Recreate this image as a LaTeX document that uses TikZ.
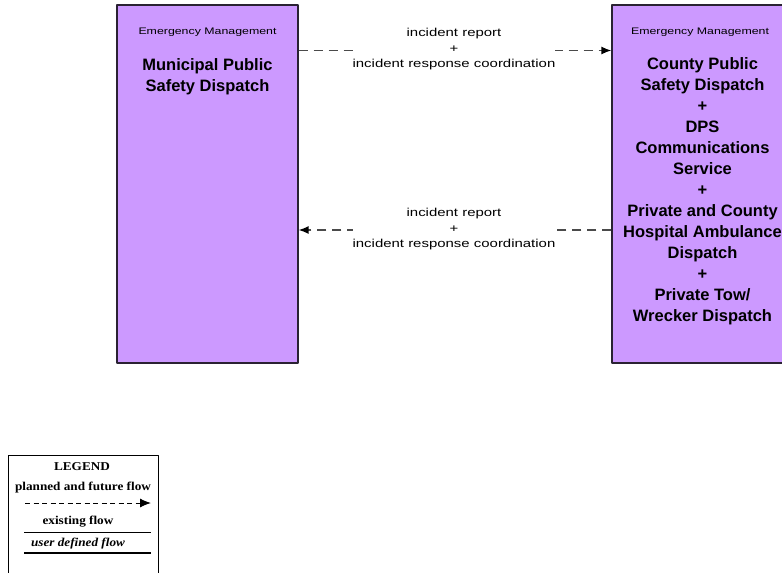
\documentclass[tikz,border=0pt]{standalone}
\usepackage{fontspec}
\usepackage{xcolor}
\usepackage{tikz}
\usetikzlibrary{arrows.meta}
\setmainfont{Liberation Sans}
\newfontfamily\flowfont[FakeStretch=1.3]{Liberation Sans}
\newfontfamily\legendfont[FakeStretch=1.1]{Liberation Serif}
\definecolor{sysviolet}{HTML}{CC99FF}
\definecolor{sysedge}{HTML}{2A2233}
\definecolor{flowgray}{HTML}{4A4A4A}

\begin{document}
\begin{tikzpicture}[x=1pt, y=-1pt, line join=round,
    sysbox/.style={draw=sysedge, fill=sysviolet, line width=1.3pt,
      minimum width=181pt, minimum height=358pt, inner sep=0pt},
    agency/.style={font=\flowfont\fontsize{9.5}{11}\selectfont},
    sysname/.style={align=center,
      font=\bfseries\fontsize{16.5}{21}\selectfont},
    plannedflow/.style={draw=flowgray, line width=1.4pt,
      dash pattern=on 9pt off 6pt,
      -{Latex[length=10pt,width=8pt,black]}},
    flowlabel/.style={fill=white, inner xsep=0pt, inner ysep=1pt, align=center,
      font=\flowfont\fontsize{11.5}{15.5}\selectfont},
    legendtext/.style={font=\legendfont\bfseries\fontsize{12}{14}\selectfont}]
  \useasboundingbox (0,0) rectangle (782,573);
  % the two systems
  \node[sysbox] (muni) at (207.5,184) {};
  \node[sysbox] (county) at (702.5,184) {};
  \node[agency] (muniagency) at (207.5,32) {Emergency Management};
  \node[agency] (countyagency) at (700,32) {Emergency Management};
  \node[sysname] (muniname) at (207.5,77) {Municipal Public\\Safety Dispatch};
  \node[sysname] (countyname) at (702.5,191.5) {County Public\\Safety Dispatch\\+\\DPS\\
    Communications\\Service\\+\\Private and County\\Hospital Ambulance\\Dispatch\\+\\
    Private Tow/\\Wrecker Dispatch};
  % flows between them
  \coordinate (toprow) at (0,50.5);
  \coordinate (lowrow) at (0,230);
  \draw[plannedflow] (muni.east |- toprow) -- (county.west |- toprow);
  \draw[plannedflow] (county.west |- lowrow) -- (muni.east |- lowrow);
  \node[flowlabel] (toplabel) at (454,49.5)
    {incident report\\+\\incident response coordination};
  \node[flowlabel] (lowlabel) at (454,229.5)
    {incident report\\+\\incident response coordination};
  % legend
  \node[draw=black, line width=1pt, minimum width=150pt, minimum height=130pt,
    inner sep=0pt] (legend) at (83,520) {};
  \node[legendtext] (legendtitle) at (82,467) {LEGEND};
  \node[legendtext] (plannedtext) at (83,488) {planned and future flow};
  \coordinate (planA) at (25,503);
  \coordinate (planB) at (151,503);
  \draw[line width=1pt, dash pattern=on 5pt off 3.5pt,
    -{Latex[length=11pt,width=9pt]}] (planA) -- (planB);
  \node[legendtext] (existtext) at (78,522) {existing flow};
  \coordinate (existA) at (24,532);
  \coordinate (existB) at (151,532);
  \draw[line width=1pt] (existA) -- (existB);
  \node[legendtext, font=\legendfont\bfseries\itshape\fontsize{12}{14}\selectfont]
    (usertext) at (78,544) {user defined flow};
  \coordinate (userA) at (24,553);
  \coordinate (userB) at (151,553);
  \draw[line width=1.5pt] (userA) -- (userB);
\end{tikzpicture}
\end{document}
